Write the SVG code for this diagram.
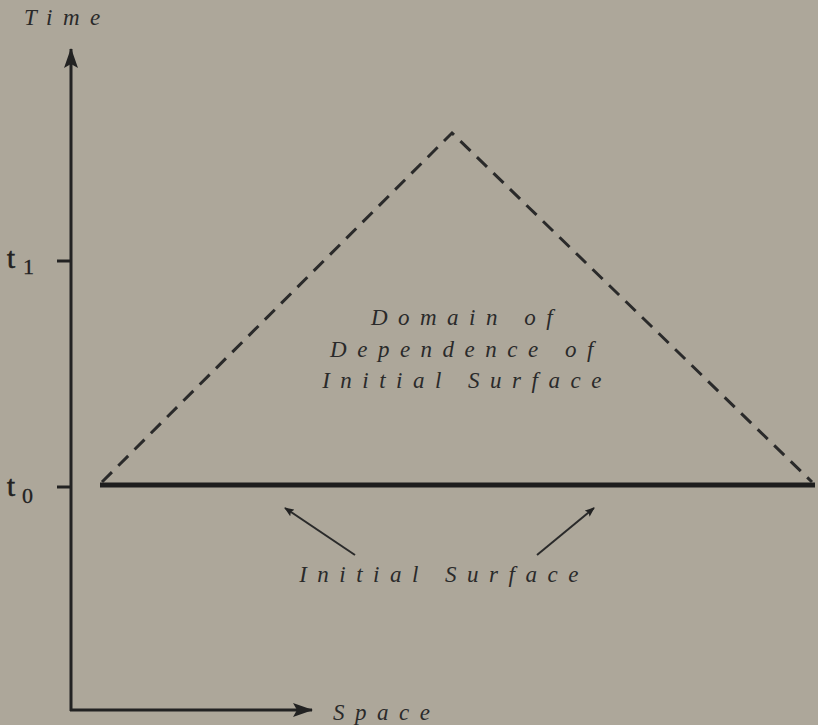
<svg xmlns="http://www.w3.org/2000/svg" width="818" height="725" viewBox="0 0 818 725">
<style>
.lab{font-family:"Liberation Serif",serif;font-style:italic;font-size:23px;fill:#2a2a2a;letter-spacing:10.5px}
.tk{font-family:"Liberation Serif",serif;font-size:29px;fill:#222;stroke:#222;stroke-width:0.6}
.sub{font-size:22px;stroke-width:0.3}
.ax{stroke:#222;stroke-width:3;fill:none}
.dash{stroke:#2a2a2a;stroke-width:3;fill:none;stroke-dasharray:14 9}
.thin{stroke:#2a2a2a;stroke-width:2;fill:none}
</style>
<defs>
<marker id="ah" markerWidth="10" markerHeight="8" refX="9" refY="4" orient="auto" markerUnits="userSpaceOnUse" viewBox="0 0 10 8"><path d="M0,0 L10,4 L0,8 L2,4 z" fill="#222"/></marker>
<marker id="big" markerWidth="20" markerHeight="14" refX="19" refY="7" orient="auto" markerUnits="userSpaceOnUse" viewBox="0 0 20 14"><path d="M0,0 L20,7 L0,14 L4,7 z" fill="#222"/></marker>
</defs>
<rect width="818" height="725" fill="#ada79a"/>
<g id="axes">
<line class="ax" x1="71" y1="711" x2="71" y2="49" marker-end="url(#big)"/>
<line class="ax" x1="70" y1="710" x2="312" y2="710" marker-end="url(#big)"/>
<line class="ax" x1="57" y1="261" x2="71" y2="261"/>
<line class="ax" x1="57" y1="487" x2="71" y2="487"/>
</g>
<g id="labels">
<text class="lab" x="24" y="25">Time</text>
<text class="lab" x="333" y="720">Space</text>
<text class="tk" x="7" y="268">t<tspan class="sub" x="23" y="274">1</tspan></text>
<text class="tk" x="7" y="496">t<tspan class="sub" x="22" y="503">0</tspan></text>
</g>
<g id="surface">
<line x1="100" y1="485" x2="815" y2="485" stroke="#1e1e1e" stroke-width="5"/>
</g>
<g id="domain">
<polyline class="dash" points="102,482 452,133 812,482"/>
<text class="lab" text-anchor="middle" x="467" y="325">Domain of</text>
<text class="lab" text-anchor="middle" x="467" y="357">Dependence of</text>
<text class="lab" text-anchor="middle" x="467" y="388">Initial Surface</text>
</g>
<g id="connectors">
<line class="thin" x1="355" y1="555" x2="285" y2="508" marker-end="url(#ah)"/>
<line class="thin" x1="537" y1="555" x2="594" y2="508" marker-end="url(#ah)"/>
</g>
<g id="initial-label">
<text class="lab" text-anchor="middle" x="444" y="582">Initial Surface</text>
</g>
</svg>
